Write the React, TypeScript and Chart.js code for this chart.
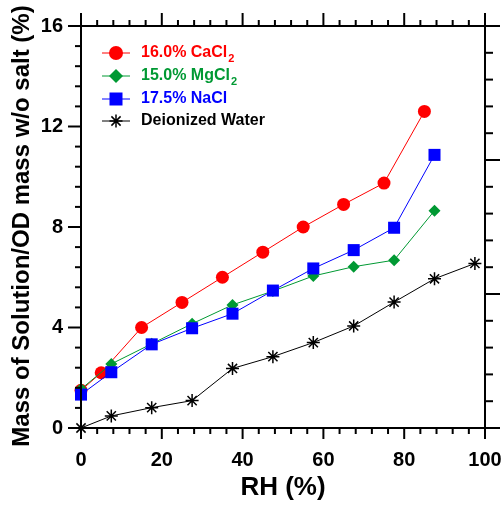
import React, { useEffect, useRef } from 'react';
import { Chart, registerables } from 'chart.js';

Chart.register(...registerables);

// ---- data ----
const caclRH = [0, 5, 15, 25, 35, 45, 55, 65, 75, 85];
const caclVal = [1.5, 2.2, 4.0, 5.0, 6.0, 7.0, 8.0, 8.9, 9.75, 12.6];
const saltRH = [0, 7.5, 17.5, 27.5, 37.5, 47.5, 57.5, 67.5, 77.5, 87.5];
const mgclVal = [1.55, 2.55, 3.35, 4.15, 4.9, 5.45, 6.05, 6.42, 6.68, 8.65];
const naclVal = [1.33, 2.22, 3.33, 3.97, 4.55, 5.47, 6.35, 7.08, 7.97, 10.87];
const waterRH = [0, 7.5, 17.5, 27.5, 37.5, 47.5, 57.5, 67.5, 77.5, 87.5, 97.5];
const waterVal = [0, 0.48, 0.81, 1.09, 2.37, 2.84, 3.4, 4.06, 5.01, 5.94, 6.55];

const legendMain = ['16.0% CaCl', '15.0% MgCl', '17.5% NaCl', 'Deionized Water'];
const legendSub = ['2', '2', '', ''];
const seriesColors = ['#ff0000', '#009933', '#0000ff', '#000000'];
const seriesShapes = ['circle', 'rectRot', 'rect', 'star'];

const xTitle = 'RH (%)';
const yTitle = 'Mass of Solution/OD mass w/o salt (%)';

const FONT = '"Liberation Sans", Arial, sans-serif';

function toPts(xs: number[], ys: number[]) {
  return xs.map((x, i) => ({ x, y: ys[i] }));
}

function drawMarker(ctx: CanvasRenderingContext2D, shape: string, x: number, y: number, color: string) {
  ctx.save();
  ctx.fillStyle = color;
  ctx.strokeStyle = color;
  ctx.beginPath();
  if (shape === 'circle') {
    ctx.arc(x, y, 7, 0, Math.PI * 2);
    ctx.fill();
  } else if (shape === 'rectRot') {
    const r = 7;
    ctx.moveTo(x, y - r);
    ctx.lineTo(x + r, y);
    ctx.lineTo(x, y + r);
    ctx.lineTo(x - r, y);
    ctx.closePath();
    ctx.fill();
  } else if (shape === 'rect') {
    ctx.rect(x - 6.5, y - 6.5, 13, 13);
    ctx.fill();
  } else {
    const r = 6.5;
    ctx.lineWidth = 1.5;
    for (let k = 0; k < 4; k++) {
      const a = (k * Math.PI) / 4;
      ctx.moveTo(x - Math.cos(a) * r, y - Math.sin(a) * r);
      ctx.lineTo(x + Math.cos(a) * r, y + Math.sin(a) * r);
    }
    ctx.stroke();
    ctx.beginPath();
    ctx.arc(x, y, 2, 0, Math.PI * 2);
    ctx.fill();
  }
  ctx.restore();
}

const framePlugin = {
  id: 'frame',
  afterDraw(chart: any) {
    const { ctx, chartArea: a, scales } = chart;
    const xs = scales.x;
    const ys = scales.y;
    const y2 = scales.y2;
    ctx.save();
    ctx.strokeStyle = '#000';
    ctx.lineWidth = 2;
    ctx.strokeRect(a.left, a.top, a.right - a.left, a.bottom - a.top);
    const seg = (x1: number, yy1: number, x2: number, yy2: number) => {
      ctx.beginPath();
      ctx.moveTo(x1, yy1);
      ctx.lineTo(x2, yy2);
      ctx.stroke();
    };
    // x ticks (bottom & top)
    for (let i = 0; i <= 25; i++) {
      const v = i * 4;
      const px = xs.getPixelForValue(v);
      const major = i % 5 === 0;
      seg(px, a.bottom, px, a.bottom + (major ? 11 : 6));
      seg(px, a.top, px, a.top - (major ? 13 : 6));
    }
    // left y ticks
    for (let i = 0; i <= 20; i++) {
      const v = i * 0.8;
      const py = ys.getPixelForValue(v);
      const major = i % 5 === 0;
      seg(a.left, py, a.left - (major ? 13 : 6), py);
    }
    // right y2 ticks
    for (let i = 0; i <= 15; i++) {
      const v = i * 0.2;
      const py = y2.getPixelForValue(v);
      const major = i % 5 === 0;
      seg(a.right, py, a.right + (major ? 15 : 8), py);
    }
    ctx.restore();

    // axis titles
    ctx.save();
    ctx.fillStyle = '#000';
    ctx.textAlign = 'center';
    ctx.textBaseline = 'middle';
    ctx.font = `bold 26px ${FONT}`;
    ctx.fillText(xTitle, (a.left + a.right) / 2, 488);
    ctx.translate(22, 226);
    ctx.rotate(-Math.PI / 2);
    ctx.font = `bold 24px ${FONT}`;
    ctx.fillText(yTitle, 0, 0);
    ctx.restore();

    // legend
    const rows = [53, 76, 99, 121];
    ctx.save();
    legendMain.forEach((label, i) => {
      const ry = rows[i];
      const col = seriesColors[i];
      ctx.strokeStyle = col;
      ctx.lineWidth = 1;
      ctx.beginPath();
      ctx.moveTo(102, ry);
      ctx.lineTo(130, ry);
      ctx.stroke();
      drawMarker(ctx, seriesShapes[i], 116, ry, col);
      ctx.fillStyle = col;
      ctx.textAlign = 'left';
      ctx.textBaseline = 'middle';
      ctx.font = `bold 16px ${FONT}`;
      ctx.fillText(label, 141, ry);
      if (legendSub[i]) {
        const w = ctx.measureText(label).width;
        ctx.font = `bold 11px ${FONT}`;
        ctx.fillText(legendSub[i], 141 + w + 1, ry + 6);
      }
    });
    ctx.restore();
  },
};

const noPad = (s: any) => {
  s.paddingLeft = 0;
  s.paddingRight = 0;
  s.paddingTop = 0;
  s.paddingBottom = 0;
};

export default function App() {
  const ref = useRef<HTMLCanvasElement | null>(null);
  useEffect(() => {
    if (!ref.current) return;
    const mk = (label: string, data: any[], i: number, radius: number, order: number) => ({
      label,
      data,
      borderColor: seriesColors[i],
      backgroundColor: seriesColors[i],
      pointBackgroundColor: seriesColors[i],
      pointBorderColor: seriesColors[i],
      pointStyle: seriesShapes[i],
      pointRadius: radius,
      pointBorderWidth: i === 3 ? 1.5 : 0,
      borderWidth: 1,
      showLine: true,
      clip: false,
      order,
    });
    const chart = new Chart(ref.current, {
      type: 'scatter',
      data: {
        datasets: [
          mk(legendMain[0], toPts(caclRH, caclVal), 0, 6.5, 4),
          mk(legendMain[1], toPts(saltRH, mgclVal), 1, 6, 3),
          mk(legendMain[2], toPts(saltRH, naclVal), 2, 8.5, 2),
          mk(legendMain[3], toPts(waterRH, waterVal), 3, 6.5, 1),
        ],
      },
      options: {
        animation: false,
        responsive: true,
        maintainAspectRatio: false,
        layout: { padding: 0 },
        plugins: { legend: { display: false }, tooltip: { enabled: false } },
        scales: {
          x: {
            type: 'linear',
            position: 'bottom',
            min: 0,
            max: 100,
            grid: { display: false, drawTicks: false },
            border: { display: false },
            ticks: { stepSize: 20, color: '#000', font: { family: FONT, size: 20, weight: 'bold' }, padding: 20, maxRotation: 0, autoSkip: false },
            afterFit: (s: any) => { s.height = 78; noPad(s); },
          },
          x2: {
            type: 'linear',
            position: 'top',
            min: 0,
            max: 100,
            grid: { display: false, drawTicks: false },
            border: { display: false },
            ticks: { display: false },
            afterFit: (s: any) => { s.height = 26; noPad(s); },
          },
          y: {
            type: 'linear',
            position: 'left',
            min: 0,
            max: 16,
            grid: { display: false, drawTicks: false },
            border: { display: false },
            ticks: { stepSize: 4, color: '#000', font: { family: FONT, size: 20, weight: 'bold' }, padding: 18, autoSkip: false },
            afterFit: (s: any) => { s.width = 81; noPad(s); },
          },
          y2: {
            type: 'linear',
            position: 'right',
            min: 0,
            max: 3,
            grid: { display: false, drawTicks: false },
            border: { display: false },
            ticks: { display: false },
            afterFit: (s: any) => { s.width = 18; noPad(s); },
          },
        },
      } as any,
      plugins: [framePlugin],
    });
    return () => chart.destroy();
  }, []);
  return (
    <div style={{ position: 'absolute', left: 0, top: 0, width: 503, height: 506, background: '#fff' }}>
      <canvas ref={ref} />
    </div>
  );
}
